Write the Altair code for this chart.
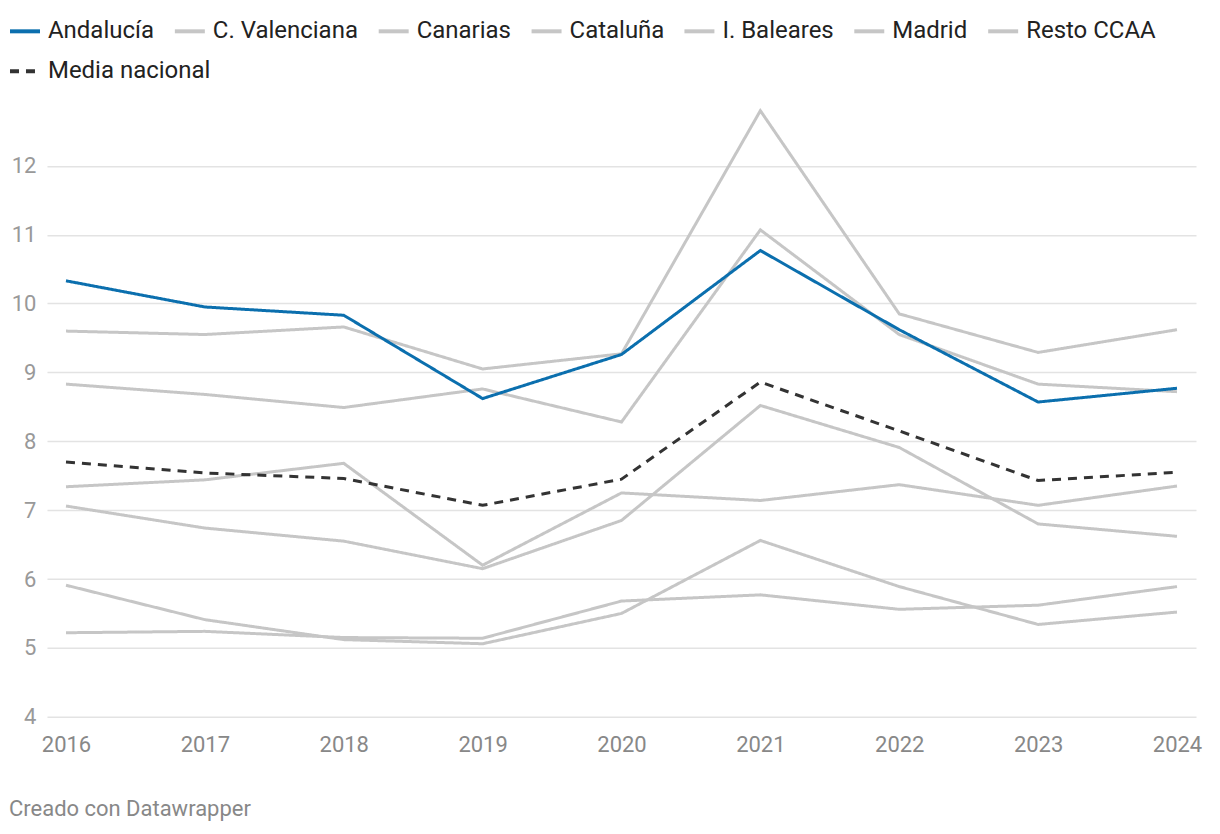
import altair as alt
import pandas as pd

years = [2016, 2017, 2018, 2019, 2020, 2021, 2022, 2023, 2024]

region_names = ["Andalucía", "C. Valenciana", "Canarias", "Cataluña",
                "I. Baleares", "Madrid", "Resto CCAA"]
media_name = "Media nacional"
series_names = region_names + [media_name]

andalucia = [10.33, 9.95, 9.83, 8.62, 9.26, 10.77, 9.62, 8.57, 8.77]
c_valenciana = [8.83, 8.68, 8.49, 8.76, 8.28, 11.07, 9.55, 8.83, 8.72]
canarias = [7.06, 6.74, 6.55, 6.15, 6.85, 8.52, 7.91, 6.80, 6.62]
cataluna = [7.34, 7.44, 7.68, 6.20, 7.25, 7.14, 7.37, 7.07, 7.35]
i_baleares = [9.60, 9.55, 9.66, 9.05, 9.27, 12.80, 9.85, 9.29, 9.62]
madrid = [5.22, 5.24, 5.15, 5.14, 5.68, 5.77, 5.56, 5.62, 5.89]
resto_ccaa = [5.91, 5.41, 5.12, 5.06, 5.50, 6.56, 5.89, 5.34, 5.52]
media_nacional = [7.70, 7.54, 7.46, 7.07, 7.45, 8.86, 8.15, 7.43, 7.55]

y_ticks = [4, 5, 6, 7, 8, 9, 10, 11, 12]

colors = ["#0b6fae", "#c6c6c6", "#c6c6c6", "#c6c6c6",
          "#c6c6c6", "#c6c6c6", "#c6c6c6", "#333333"]

values = {
    "Andalucía": andalucia, "C. Valenciana": c_valenciana, "Canarias": canarias,
    "Cataluña": cataluna, "I. Baleares": i_baleares, "Madrid": madrid,
    "Resto CCAA": resto_ccaa, "Media nacional": media_nacional,
}

rows = []
for name in series_names:
    for yr, v in zip(years, values[name]):
        rows.append({"serie": name, "year": yr, "value": v,
                     "linea": media_name if name == media_name else "Región"})
df = pd.DataFrame(rows)

gray_df = df[~df["serie"].isin(["Andalucía", media_name])]
top_df = df[df["serie"].isin([media_name, "Andalucía"])]

FONT = "Roboto"

x_enc = alt.X("year:Q",
              scale=alt.Scale(domain=[2015.863, 2024.137], nice=False, zero=False),
              axis=alt.Axis(values=years, format="d", title=None, grid=False,
                            domain=False, ticks=False, labelPadding=18,
                            labelFontSize=22, labelColor="#888888", labelFont=FONT,
                            labelFlush=False, labelOverlap=False))
y_enc = alt.Y("value:Q",
              scale=alt.Scale(domain=[4, 12.85], nice=False, zero=False),
              axis=alt.Axis(values=y_ticks, title=None, grid=True,
                            gridColor="#e3e3e3", gridWidth=1.5,
                            domain=False, ticks=False, labelPadding=11,
                            labelFontSize=22, labelColor="#999999", labelFont=FONT))

legend_common = dict(title=None, orient="none", direction="horizontal",
                     symbolType="stroke", symbolSize=900, symbolStrokeWidth=4,
                     labelFontSize=24, labelFont=FONT, labelColor="#222222",
                     labelOffset=6, columnPadding=12, labelLimit=400)

color_enc = alt.Color("serie:N",
                      scale=alt.Scale(domain=series_names, range=colors),
                      legend=alt.Legend(values=region_names, legendX=-39,
                                        legendY=-93, **legend_common))
dash_enc = alt.StrokeDash("linea:N",
                          scale=alt.Scale(domain=["Región", media_name],
                                          range=[[1, 0], [9, 7]]),
                          legend=alt.Legend(values=[media_name], legendX=-39,
                                            legendY=-53,
                                            symbolStrokeColor="#333333",
                                            **legend_common))

gray_layer = alt.Chart(gray_df).mark_line(strokeWidth=3).encode(
    x=x_enc, y=y_enc, color=color_enc, strokeDash=dash_enc,
    detail="serie:N")
top_layer = alt.Chart(top_df).mark_line(strokeWidth=3).encode(
    x=x_enc, y=y_enc, color=color_enc, strokeDash=dash_enc,
    detail="serie:N")

chart = alt.layer(gray_layer, top_layer).properties(
    width=1150, height=610,
    autosize=alt.AutoSizeParams(type="none"),
    padding={"left": 39, "top": 99, "right": 16, "bottom": 115},
    title=alt.TitleParams("Creado con Datawrapper", orient="bottom",
                          anchor="start", fontSize=22, color="#888888",
                          font=FONT, fontWeight="normal", offset=43, dx=1),
).configure(background="white").configure_view(stroke=None)

chart.save("out.html", embed_options={"renderer": "svg", "actions": False})
